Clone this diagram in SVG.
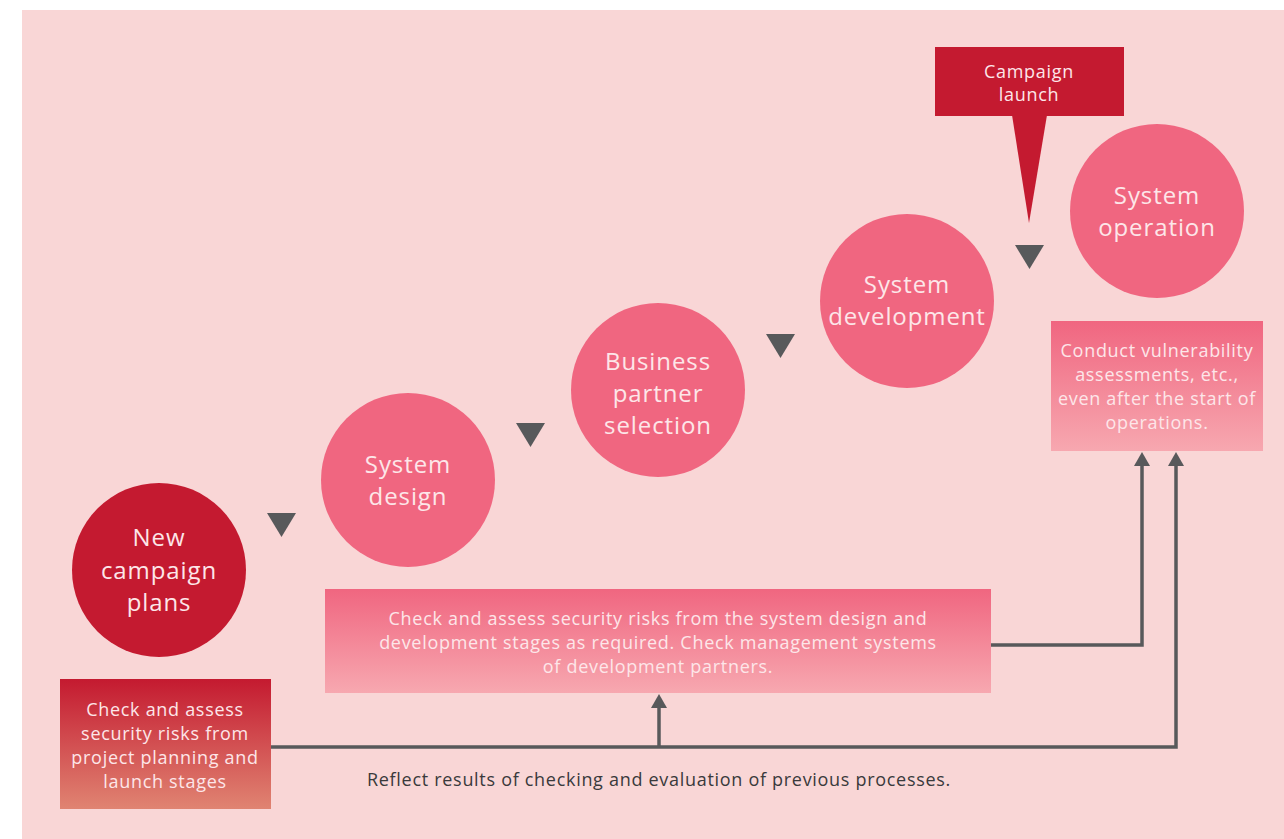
<svg xmlns="http://www.w3.org/2000/svg" width="1284" height="839" viewBox="0 0 1284 839">
<defs>
<linearGradient id="gPink" x1="0" y1="0" x2="0" y2="1">
<stop offset="0" stop-color="#f06680"/>
<stop offset="1" stop-color="#f7a8b0"/>
</linearGradient>
<linearGradient id="gRed" x1="0" y1="0" x2="0" y2="1">
<stop offset="0" stop-color="#c41a30"/>
<stop offset="1" stop-color="#e08472"/>
</linearGradient>
<style>
.circ{fill:#f06680}
.red{fill:#c41a30}
.ct{font-family:"Open Sans","Liberation Sans",Arial,sans-serif;font-size:24px;letter-spacing:0.9px;fill:#fde6e9;text-anchor:middle}
.bt{font-family:"Open Sans","Liberation Sans",Arial,sans-serif;font-size:18px;letter-spacing:0.7px;fill:#fde6e9;text-anchor:middle}
.tri{fill:#58595b}
.con{fill:none;stroke:#58595b;stroke-width:3.5}
</style>
</defs>
<rect x="0" y="0" width="1284" height="839" fill="#ffffff"/>
<rect x="22" y="10" width="1262" height="829" fill="#f9d6d6"/>

<g id="connectors">
<polyline class="con" points="271,747 1176,747 1176,462"/>
<line class="con" x1="659" y1="747" x2="659" y2="704"/>
<polyline class="con" points="991,645 1142,645 1142,462"/>
<path class="tri" d="M1176,452 L1184,466 L1168,466 Z"/>
<path class="tri" d="M1142,452 L1150,466 L1134,466 Z"/>
<path class="tri" d="M659,694 L667,708 L651,708 Z"/>
<path class="tri" d="M267,513 L296,513 L281.5,537 Z"/>
<path class="tri" d="M516,423 L545,423 L530.5,447 Z"/>
<path class="tri" d="M766,334 L795,334 L780.5,358 Z"/>
<path class="tri" d="M1015,245 L1044,245 L1029.5,269 Z"/>
</g>

<g id="new-campaign">
<circle class="red" cx="159" cy="570" r="87"/>
<text class="ct" x="159" y="546">New</text>
<text class="ct" x="159" y="579">campaign</text>
<text class="ct" x="159" y="611">plans</text>
</g>

<g id="system-design">
<circle class="circ" cx="408" cy="480" r="87"/>
<text class="ct" x="408" y="473">System</text>
<text class="ct" x="408" y="505">design</text>
</g>

<g id="business-partner">
<circle class="circ" cx="658" cy="390" r="87"/>
<text class="ct" x="658" y="370">Business</text>
<text class="ct" x="658" y="402">partner</text>
<text class="ct" x="658" y="434">selection</text>
</g>

<g id="system-development">
<circle class="circ" cx="907" cy="301" r="87"/>
<text class="ct" x="907" y="293">System</text>
<text class="ct" x="907" y="325">development</text>
</g>

<g id="system-operation">
<circle class="circ" cx="1157" cy="211" r="87"/>
<text class="ct" x="1157" y="204">System</text>
<text class="ct" x="1157" y="236">operation</text>
</g>

<g id="campaign-launch">
<rect class="red" x="935" y="47" width="189" height="69"/>
<path class="red" d="M1012,115 L1047,115 L1029,223 Z"/>
<text class="bt" x="1029" y="78">Campaign</text>
<text class="bt" x="1029" y="101">launch</text>
</g>

<g id="vuln-box">
<rect x="1051" y="321" width="212" height="130" fill="url(#gPink)"/>
<text class="bt" x="1157" y="357">Conduct vulnerability</text>
<text class="bt" x="1157" y="381">assessments, etc.,</text>
<text class="bt" x="1157" y="405">even after the start of</text>
<text class="bt" x="1157" y="429">operations.</text>
</g>

<g id="design-box">
<rect x="325" y="589" width="666" height="104" fill="url(#gPink)"/>
<text class="bt" x="658" y="625">Check and assess security risks from the system design and</text>
<text class="bt" x="658" y="649">development stages as required. Check management systems</text>
<text class="bt" x="658" y="673">of development partners.</text>
</g>

<g id="planning-box">
<rect x="60" y="679" width="211" height="130" fill="url(#gRed)"/>
<text class="bt" x="165" y="716">Check and assess</text>
<text class="bt" x="165" y="740">security risks from</text>
<text class="bt" x="165" y="764">project planning and</text>
<text class="bt" x="165" y="788">launch stages</text>
</g>

<g id="note">
<text x="659" y="786" font-family="Open Sans, Liberation Sans, Arial, sans-serif" font-size="18" letter-spacing="0.7" fill="#3a3a3c" text-anchor="middle">Reflect results of checking and evaluation of previous processes.</text>
</g>
</svg>
